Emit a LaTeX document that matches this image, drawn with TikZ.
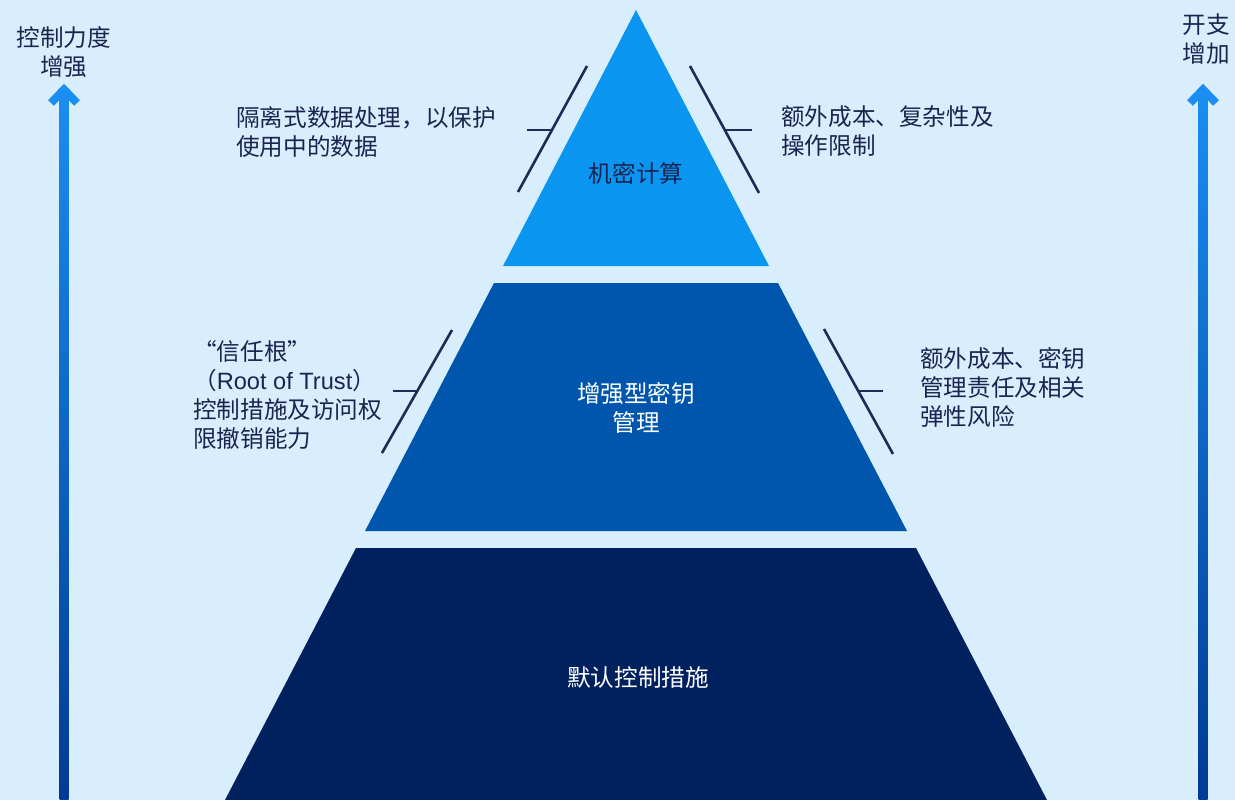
\documentclass[tikz,border=0pt]{standalone}
\usepackage{fontspec}
\setmainfont{Noto Sans CJK SC}
\newfontfamily\latinfont{Liberation Sans}
\definecolor{bgc}{HTML}{D9EEFC}
\definecolor{topc}{HTML}{0A95F0}
\definecolor{midc}{HTML}{0056AC}
\definecolor{botc}{HTML}{00205E}
\definecolor{inkc}{HTML}{1B2450}
\definecolor{tickc}{HTML}{1F2A58}
\definecolor{arrtop}{HTML}{1A8EF2}
\definecolor{arrbot}{HTML}{003A94}
\tikzset{
  lbl/.style={inner sep=0pt, text=inkc, align=left, font=\fontsize{23.6}{29}\selectfont},
  inlbl/.style={inner sep=0pt, align=center, font=\fontsize{23.6}{29}\selectfont},
  tickln/.style={draw=tickc, line width=2.6pt},
  chev/.style={line width=8pt, line join=miter, line cap=butt}
}
\begin{document}
\begin{tikzpicture}[x=1pt,y=-1pt]
\useasboundingbox (0,0) rectangle (1235,800);
\fill[bgc] (0,0) rectangle (1235,800);

% pyramid levels
\fill[topc] (636,10) -- (769,266) -- (503,266) -- cycle;
\fill[midc] (494,283) -- (778,283) -- (907,531) -- (365,531) -- cycle;
\fill[botc] (356,548) -- (916,548) -- (1047,800) -- (225,800) -- cycle;

\node[inlbl, text=inkc] (l1) at (636,173) {机密计算};
\node[inlbl, text=white] (l2) at (636,408) {增强型密钥\\管理};
\node[inlbl, text=white] (l3) at (638,678) {默认控制措施};

% left arrow
\shade[top color=arrtop, bottom color=arrbot] (59.5,92) rectangle (68.5,800);
\draw[chev, arrtop] (51,103) -- (64,89.5) -- (77,103);
\node[inlbl, text=inkc] (lalbl) at (64,52) {控制力度\\增强};

% right arrow
\shade[top color=arrtop, bottom color=arrbot] (1198.5,92) rectangle (1207.5,800);
\draw[chev, arrtop] (1190,103) -- (1203,89.5) -- (1216,103);
\node[inlbl, text=inkc] (ralbl) at (1206,39) {开支\\增加};

% side texts
\node[lbl, anchor=west] (t1) at (236,132.5) {隔离式数据处理，以保护\\使用中的数据};
\node[lbl, anchor=west] (t2) at (781,131.5) {额外成本、复杂性及\\操作限制};
\node[lbl, anchor=west] (t3) at (193,395) {“信任根”\\（{\latinfont Root of Trust}）\\控制措施及访问权\\限撤销能力};
\node[lbl, anchor=west] (t4) at (920,387.5) {额外成本、密钥\\管理责任及相关\\弹性风险};

% tick marks
\coordinate (a1) at (587,66); \coordinate (a2) at (518,192);
\coordinate (a3) at (527,130); \coordinate (a4) at (552,130);
\draw[tickln] (a1) -- (a2); \draw[tickln] (a3) -- (a4);
\coordinate (b1) at (690,66); \coordinate (b2) at (759,193);
\coordinate (b3) at (725,130); \coordinate (b4) at (752,130);
\draw[tickln] (b1) -- (b2); \draw[tickln] (b3) -- (b4);
\coordinate (c1) at (452,330); \coordinate (c2) at (382,453);
\coordinate (c3) at (393,391); \coordinate (c4) at (417,391);
\draw[tickln] (c1) -- (c2); \draw[tickln] (c3) -- (c4);
\coordinate (d1) at (824,329); \coordinate (d2) at (893,454);
\coordinate (d3) at (858,391); \coordinate (d4) at (883,391);
\draw[tickln] (d1) -- (d2); \draw[tickln] (d3) -- (d4);
\end{tikzpicture}
\end{document}
